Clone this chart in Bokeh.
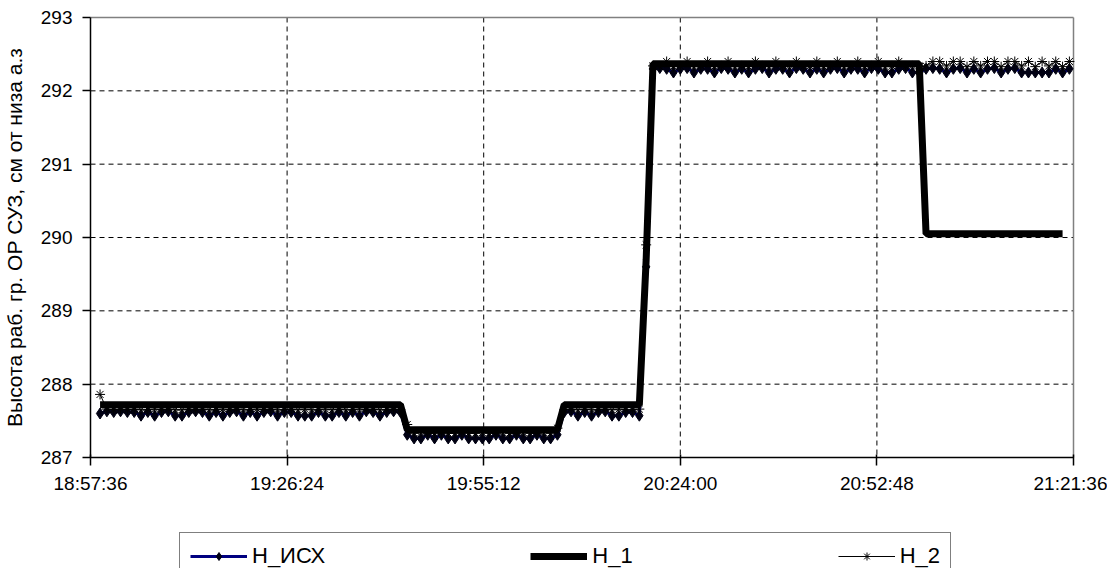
from datetime import datetime, timedelta
import math

from bokeh.plotting import figure
from bokeh.models import (FixedTicker, DatetimeTickFormatter, Range1d, Legend,
                          LegendItem, Label)
from bokeh.embed import file_html
from bokeh.resources import INLINE

# ---------------- data ----------------
tick_labels = ["18:57:36", "19:26:24", "19:55:12", "20:24:00", "20:52:48", "21:21:36"]
y_ticks = [287, 288, 289, 290, 291, 292, 293]

series_names = ["H_ИСХ", "H_1", "H_2"]
y_title = "Высота раб. гр. ОР СУЗ, см от низа а.з"

# samples taken once a minute starting at 18:59:00
sample_start = "18:59:00"
sample_step_s = 60

H_ISX = [
    287.60, 287.63, 287.62, 287.63, 287.62, 287.62, 287.57, 287.62, 287.57, 287.62,
    287.63, 287.57, 287.57, 287.62, 287.63, 287.62, 287.57, 287.62, 287.57, 287.62,
    287.63, 287.57, 287.62, 287.57, 287.62, 287.63, 287.57, 287.62, 287.62, 287.57,
    287.57, 287.57, 287.62, 287.57, 287.57, 287.62, 287.57, 287.62, 287.57, 287.63,
    287.62, 287.57, 287.62, 287.63, 287.62, 287.31, 287.26, 287.26, 287.31, 287.26,
    287.31, 287.26, 287.26, 287.31, 287.26, 287.26, 287.26, 287.26, 287.31, 287.26,
    287.26, 287.31, 287.26, 287.26, 287.31, 287.26, 287.26, 287.31, 287.62, 287.63,
    287.57, 287.62, 287.57, 287.62, 287.63, 287.57, 287.57, 287.62, 287.62, 287.57,
    289.60, 292.30, 292.31, 292.30, 292.25, 292.30, 292.31, 292.25, 292.30, 292.30,
    292.25, 292.31, 292.30, 292.25, 292.30, 292.25, 292.30, 292.31, 292.25, 292.30,
    292.30, 292.25, 292.31, 292.30, 292.25, 292.30, 292.25, 292.30, 292.31, 292.25,
    292.30, 292.30, 292.25, 292.31, 292.30, 292.25, 292.25, 292.30, 292.31, 292.25,
    292.25, 292.30, 292.31, 292.30, 292.25, 292.30, 292.31, 292.25, 292.30, 292.25,
    292.30, 292.31, 292.25, 292.30, 292.31, 292.25, 292.25, 292.25, 292.25, 292.25,
    292.30, 292.25, 292.30,
]

H_1 = [
    287.72, 287.72, 287.72, 287.72, 287.72, 287.72, 287.72, 287.72, 287.72, 287.72,
    287.72, 287.72, 287.72, 287.72, 287.72, 287.72, 287.72, 287.72, 287.72, 287.72,
    287.72, 287.72, 287.72, 287.72, 287.72, 287.72, 287.72, 287.72, 287.72, 287.72,
    287.72, 287.72, 287.72, 287.72, 287.72, 287.72, 287.72, 287.72, 287.72, 287.72,
    287.72, 287.72, 287.72, 287.72, 287.72, 287.38, 287.38, 287.38, 287.38, 287.38,
    287.38, 287.38, 287.38, 287.38, 287.38, 287.38, 287.38, 287.38, 287.38, 287.38,
    287.38, 287.38, 287.38, 287.38, 287.38, 287.38, 287.38, 287.38, 287.72, 287.72,
    287.72, 287.72, 287.72, 287.72, 287.72, 287.72, 287.72, 287.72, 287.72, 287.72,
    289.70, 292.37, 292.37, 292.37, 292.37, 292.37, 292.37, 292.37, 292.37, 292.37,
    292.37, 292.37, 292.37, 292.37, 292.37, 292.37, 292.37, 292.37, 292.37, 292.37,
    292.37, 292.37, 292.37, 292.37, 292.37, 292.37, 292.37, 292.37, 292.37, 292.37,
    292.37, 292.37, 292.37, 292.37, 292.37, 292.37, 292.37, 292.37, 292.37, 292.37,
    292.37, 290.05, 290.05, 290.05, 290.05, 290.05, 290.05, 290.05, 290.05, 290.05,
    290.05, 290.05, 290.05, 290.05, 290.05, 290.05, 290.05, 290.05, 290.05, 290.05,
    290.05, 290.05,
]

H_2 = [
    287.86, 287.66, 287.65, 287.66, 287.65, 287.66, 287.65, 287.65, 287.66, 287.65,
    287.66, 287.65, 287.65, 287.66, 287.65, 287.66, 287.65, 287.65, 287.66, 287.65,
    287.66, 287.65, 287.65, 287.66, 287.65, 287.66, 287.65, 287.65, 287.66, 287.65,
    287.66, 287.65, 287.65, 287.66, 287.65, 287.66, 287.65, 287.65, 287.66, 287.65,
    287.66, 287.65, 287.65, 287.66, 287.65, 287.45, 287.33, 287.34, 287.33, 287.33,
    287.34, 287.33, 287.33, 287.34, 287.33, 287.33, 287.34, 287.33, 287.33, 287.34,
    287.33, 287.33, 287.34, 287.33, 287.33, 287.34, 287.33, 287.40, 287.65, 287.66,
    287.65, 287.66, 287.65, 287.65, 287.66, 287.65, 287.66, 287.65, 287.65, 287.66,
    289.90, 292.34, 292.33, 292.40, 292.33, 292.34, 292.40, 292.33, 292.34, 292.40,
    292.33, 292.34, 292.40, 292.33, 292.34, 292.33, 292.40, 292.34, 292.33, 292.40,
    292.33, 292.34, 292.40, 292.33, 292.34, 292.40, 292.33, 292.34, 292.40, 292.33,
    292.34, 292.40, 292.33, 292.34, 292.40, 292.33, 292.34, 292.40, 292.33, 292.34,
    292.33, 292.34, 292.40, 292.40, 292.34, 292.40, 292.40, 292.33, 292.40, 292.34,
    292.40, 292.40, 292.33, 292.40, 292.40, 292.34, 292.40, 292.33, 292.40, 292.34,
    292.40, 292.33, 292.40,
]

# ---------------- helpers ----------------
BASE = datetime(2000, 1, 1)
EPOCH = datetime(1970, 1, 1)


def to_dt(s):
    h, m, sec = (int(v) for v in s.split(":"))
    return BASE + timedelta(hours=h, minutes=m, seconds=sec)


def to_ms(d):
    return (d - EPOCH).total_seconds() * 1000.0


def times_for(values):
    t0 = to_dt(sample_start)
    return [t0 + timedelta(seconds=sample_step_s * i) for i in range(len(values))]


tick_times = [to_dt(s) for s in tick_labels]
tick_ms = [to_ms(d) for d in tick_times]
x_first, x_last = tick_ms[0], tick_ms[-1]
y_first, y_last = y_ticks[0], y_ticks[-1]

FONT = "Liberation Sans"

# ---- layout in pixels: the frame covers the whole canvas; the plot box
# (axes, grid) sits inside it at left=90, right=1073, top=17, bottom=457
W_FIG, H_FIG = 1107, 568
BOX_L, BOX_R, BOX_T, BOX_B = 90, 1073, 17, 457
ms_per_px = (x_last - x_first) / (BOX_R - BOX_L)
u_per_px = (y_last - y_first) / (BOX_B - BOX_T)
x_start = x_first - BOX_L * ms_per_px
x_end = x_last + (W_FIG - BOX_R) * ms_per_px
y_end = y_last + BOX_T * u_per_px
y_start = y_first - (H_FIG - BOX_B) * u_per_px

p = figure(width=W_FIG, height=H_FIG, x_axis_type="datetime",
           output_backend="svg", toolbar_location=None,
           x_range=Range1d(x_start, x_end), y_range=Range1d(y_start, y_end),
           min_border_left=0, min_border_right=0, min_border_top=0,
           min_border_bottom=0)

p.background_fill_color = "white"
p.border_fill_color = "white"
p.outline_line_color = None
p.xgrid.grid_line_color = None
p.ygrid.grid_line_color = None

# axes
p.xaxis.ticker = FixedTicker(ticks=tick_ms)
fmt = "%H:%M:%S"
p.xaxis.formatter = DatetimeTickFormatter(
    microseconds=fmt, milliseconds=fmt, seconds=fmt, minsec=fmt, minutes=fmt,
    hourmin=fmt, hours=fmt, days=fmt, months=fmt, years=fmt)
p.xaxis.fixed_location = y_first
p.xaxis.bounds = (x_first, x_last)
p.yaxis.ticker = FixedTicker(ticks=y_ticks)
p.yaxis.fixed_location = x_first
p.yaxis.bounds = (y_first, y_last)

for ax in (p.xaxis[0], p.yaxis[0]):
    ax.axis_line_color = "black"
    ax.axis_line_width = 1.5
    ax.major_tick_line_color = "black"
    ax.major_tick_line_width = 1.5
    ax.minor_tick_line_color = None
    ax.major_label_text_font = FONT
    ax.major_label_text_font_size = "19px"
    ax.major_label_text_color = "black"

p.xaxis.major_tick_out = 8
p.xaxis.major_tick_in = 3
p.xaxis.major_label_standoff = 7
p.yaxis.major_tick_out = 8
p.yaxis.major_tick_in = 0
p.yaxis.major_label_standoff = 10

# y axis title, centred on the plot box
p.add_layout(Label(x=x_start + 14 * ms_per_px, y=(y_first + y_last) / 2,
                   text=y_title, angle=math.pi / 2, text_align="center",
                   text_baseline="middle", text_font=FONT,
                   text_font_size="21px", text_color="black"))

# dashed grid lines limited to the plot box (interior ticks only)
inner_x = tick_ms[1:-1]
inner_y = y_ticks[1:-1]
p.segment(x0=inner_x, x1=inner_x, y0=[y_last] * len(inner_x),
          y1=[y_first] * len(inner_x), line_color="#000000", line_width=1,
          line_dash="5 4")
p.segment(x0=[x_first] * len(inner_y), x1=[x_last] * len(inner_y),
          y0=inner_y, y1=inner_y, line_color="#000000", line_width=1,
          line_dash="5 4")
# grey top and right border of the plot box
p.segment(x0=[x_first, x_last], x1=[x_last, x_last],
          y0=[y_last, y_last], y1=[y_last, y_first],
          line_color="#808080", line_width=1.5)

# series
t_isx = times_for(H_ISX)
t_1 = times_for(H_1)
t_2 = times_for(H_2)

r_isx = p.line(t_isx, H_ISX, line_color="#000080", line_width=3)
m_isx = p.scatter(t_isx, H_ISX, marker="diamond", size=11,
                  fill_color="#000012", line_color="#000012")
r_1 = p.line(t_1, H_1, line_color="black", line_width=7)
r_2 = p.line(t_2, H_2, line_color="black", line_width=1)
m_2 = p.scatter(t_2, H_2, marker="asterisk", size=10, line_color="black",
                line_width=1)

legend = Legend(
    items=[LegendItem(label=series_names[0], renderers=[r_isx, m_isx]),
           LegendItem(label=series_names[1], renderers=[r_1]),
           LegendItem(label=series_names[2], renderers=[r_2, m_2])],
    orientation="horizontal", location=(179, -12),
    glyph_width=57, glyph_height=20, label_standoff=5, spacing=205,
    padding=10, margin=0,
    label_text_font=FONT, label_text_font_size="22px",
    label_text_color="black",
    border_line_color="black", border_line_width=1,
    background_fill_color="white", background_fill_alpha=1.0)
p.add_layout(legend, "center")

open("out.html", "w").write(file_html(p, INLINE))
